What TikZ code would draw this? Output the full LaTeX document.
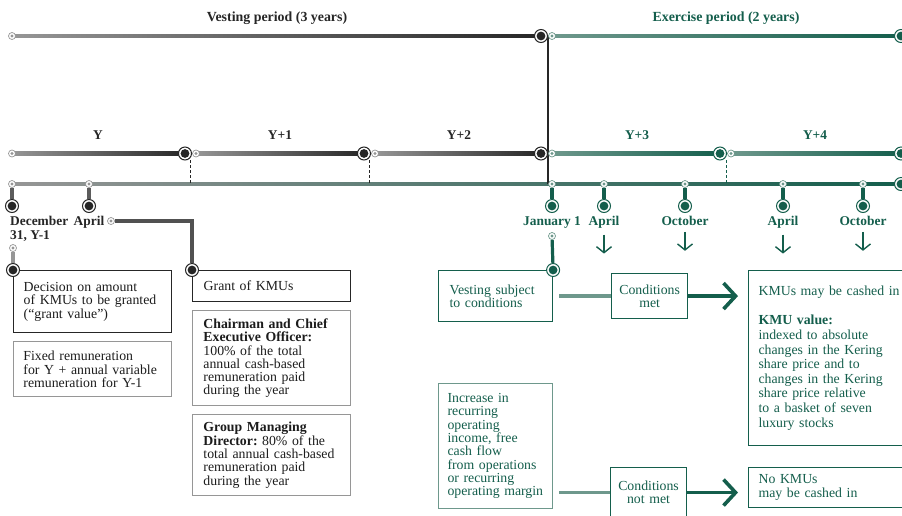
\documentclass[tikz,border=0pt]{standalone}
\usepackage{fontspec}
\setmainfont{Liberation Serif}
\usepackage{xcolor}
\definecolor{kdark}{RGB}{38,38,38}
\definecolor{ktext}{RGB}{28,28,28}
\definecolor{kgray}{RGB}{150,150,150}
\definecolor{kgreen}{RGB}{20,94,76}
\definecolor{klight}{RGB}{110,152,140}
\usepackage{tikz}
\usetikzlibrary{arrows.meta, positioning, calc, backgrounds}
\frenchspacing

\begin{document}
\begin{tikzpicture}[x=1pt, y=-1pt,
	sdot/.style={circle, draw=#1, fill=white, line width=0.7pt, minimum size=7pt, inner sep=0pt,
	             path picture={\fill[#1] (path picture bounding box.center) circle (1.7pt);}},
	bdot/.style={circle, draw=#1, fill=white, line width=1pt, minimum size=13pt, inner sep=0pt,
	             path picture={\fill[#1] (path picture bounding box.center) circle (4.4pt);}},
	lbl/.style={font=\fontsize{13.4}{14}\selectfont\bfseries, inner sep=0pt},
	ttl/.style={font=\fontsize{13.9}{14}\selectfont\bfseries, inner sep=0pt},
	kbox/.style={rectangle, anchor=north west, align=left, inner xsep=10pt, inner ysep=4pt,
	             font=\fontsize{13.8}{13.3}\selectfont},
	dbox/.style={kbox, draw=kdark, line width=1.4pt, text=ktext},
	gbox/.style={kbox, draw=kgray, line width=0.9pt, text=ktext},
	grbox/.style={kbox, draw=kgreen, line width=1.1pt, text=kgreen},
	stem/.style={draw=#1, line width=3.2pt},
	yearsep/.style={draw=#1, line width=0.8pt, densely dashed},
	darr/.style={draw=kgreen, line width=1.4pt, -{Straight Barb[length=6pt, width=15pt]}},
	feed/.style={draw=klight, line width=3.6pt},
	bigarr/.style={draw=kgreen, line width=3.6pt, -{Straight Barb[length=12pt, width=26pt]}}
	]
\useasboundingbox (0,0) rectangle (902,515);

% titles
\node[ttl, text=kdark, anchor=base] (tvest) at (277,21.5) {Vesting period (3 years)};
\node[ttl, text=kgreen, anchor=base] (texer) at (726,21.5) {Exercise period (2 years)};

% periods
\node[sdot=kgray] (a0) at (12,36) {};
\node[bdot=kdark] (a1) at (541,36) {};
\node[sdot=klight] (a2) at (552,36) {};
\node[bdot=kgreen] (a3) at (901,36) {};

% years
\foreach \x/\t/\c in {98/Y/kdark, 280/Y+1/kdark, 459/Y+2/kdark, 637/Y+3/kgreen, 815/Y+4/kgreen}
  \node[lbl, text=\c, anchor=base] (yr\x) at (\x,139.5) {\t};
\node[sdot=kgray] (b0) at (12,153.5) {};
\node[bdot=kdark] (b1) at (185,153.5) {};
\node[sdot=kgray] (b2) at (196,153.5) {};
\node[bdot=kdark] (b3) at (364,153.5) {};
\node[sdot=kgray] (b4) at (375,153.5) {};
\node[bdot=kdark] (b5) at (541,153.5) {};
\node[sdot=klight] (b6) at (552,153.5) {};
\node[bdot=kgreen] (b7) at (720,153.5) {};
\node[sdot=klight] (b8) at (731,153.5) {};
\node[bdot=kgreen] (b9) at (901,153.5) {};
\coordinate (k1) at (190.5,160);
\coordinate (k2) at (369.5,160);
\coordinate (k3) at (726,160);

% dates
\node[sdot=kgray] (c0) at (12,184) {};
\node[sdot=kgray] (c1) at (89,184) {};
\node[bdot=kgreen] (cend) at (901,184) {};
\node[bdot=kdark] (e0) at (12,206) {};
\node[bdot=kdark] (e1) at (89,206) {};
\node[lbl, text=kdark, align=left, anchor=north west] (dec) at (10,216) {December\\31, Y-1};
\node[lbl, text=kdark, anchor=base] (apr) at (89,225.5) {April};
\node[sdot=kgray] (ap) at (111,221) {};
\node[sdot=kgray] (dy) at (13,248) {};

\node[sdot=klight] (cj) at (552,184) {};
\node[bdot=kgreen] (ej) at (552,206) {};
\node[lbl, text=kgreen, anchor=base] (jan) at (552,225.5) {January 1};
\node[sdot=klight] (vj) at (552,236) {};

\foreach \x/\n/\t in {604/2/April, 685/3/October, 783/4/April, 863/5/October}{
  \node[sdot=klight] (c\n) at (\x,184) {};
  \node[bdot=kgreen] (e\n) at (\x,206) {};
  \node[lbl, text=kgreen, anchor=base] (m\n) at (\x,225.5) {\t};
  \draw[stem=kgreen] (c\n) -- (e\n);
  \draw[darr] ([yshift=-6pt]m\n.south) -- ++(0,19);
}

% vesting side
\node[dbox, text width=138pt, minimum height=62pt] (decide) at (13,270)
  {Decision on amount\\of KMUs to be granted\\(“grant value”)};
\node[gbox, text width=138pt, minimum height=55pt, below=8pt of decide.south west, anchor=north west] (fixed)
  {Fixed remuneration\\for Y + annual variable\\remuneration for Y-1};
\node[dbox, text width=136pt, inner xsep=11pt, minimum height=31pt] (grant) at (192,270) {Grant of KMUs};
\node[gbox, text width=136pt, inner xsep=11pt, minimum height=95pt, below=8pt of grant.south west, anchor=north west] (ceo)
  {\textbf{Chairman and Chief}\\\textbf{Executive Officer:}\\100\% of the total\\annual cash-based\\remuneration paid\\during the year};
\node[gbox, text width=136pt, inner xsep=11pt, minimum height=81pt, below=8pt of ceo.south west, anchor=north west] (gmd)
  {\textbf{Group Managing}\\\textbf{Director:} 80\% of the\\total annual cash-based\\remuneration paid\\during the year};
\node[bdot=kdark] (dd) at (decide.north west) {};
\node[bdot=kdark] (gg) at (grant.north west) {};

% exercise side
\node[grbox, text width=92pt, inner xsep=11pt, minimum height=51pt] (vest) at (438,270) {Vesting subject\\to conditions};
\node[bdot=kgreen] (vv) at (vest.north east) {};
\node[grbox, align=center, text width=62pt, inner xsep=7pt, minimum height=45pt, right=58pt of vest] (met) {Conditions\\met};
\node[grbox, text width=150pt, minimum height=175pt, font=\fontsize{13.8}{14.6}\selectfont] (cash) at (748,270)
  {KMUs may be cashed in\\[14.6pt]\textbf{KMU value:}\\indexed to absolute\\changes in the Kering\\share price and to\\changes in the Kering\\share price relative\\to a basket of seven\\luxury stocks};
\node[grbox, draw=klight, text width=96pt, inner xsep=9pt, minimum height=125pt] (incr) at (438,383)
  {Increase in\\recurring\\operating\\income, free\\cash flow\\from operations\\or recurring\\operating margin};
\node[grbox, align=center, text width=62pt, inner xsep=7pt, minimum height=50pt] (nmet) at (610,467) {Conditions\\not met};
\node[grbox, text width=150pt, minimum height=40pt] (nocash) at (748,467) {No KMUs\\may be cashed in};

\draw[feed, shorten <=6pt] (vest) -- (met);
\draw[bigarr, shorten >=10pt] (met) -- (met -| cash.west);
\draw[feed, shorten <=6pt] (incr.east |- nmet.west) -- (nmet.west);
\draw[bigarr, shorten >=10pt] (nmet.east) -- (nmet.east -| nocash.west);

\begin{scope}[on background layer]
\foreach \sa/\sb/\ca/\cb in {a0/a1/kgray/kdark, a2/a3/klight/kgreen, b0/b1/kgray/kdark, b2/b3/kgray/kdark,
    b4/b5/kgray/kdark, b6/b7/klight/kgreen, b8/b9/klight/kgreen, c0/cend/kgray/kgreen}
  \path[left color=\ca, right color=\cb] ($(\sa.center)+(0,-1.7)$) rectangle ($(\sb.center)+(0,1.7)$);
\coordinate (vtop) at (548,36);
\coordinate (vbot) at (548,184);
\draw[kdark, line width=2pt] (vtop) -- (vbot);
\draw[yearsep=kdark] (k1) -- (k1 |- c0);
\draw[yearsep=kdark] (k2) -- (k2 |- c0);
\draw[yearsep=kgreen] (k3) -- (k3 |- c0);
\draw[stem=kdark!75] (c0) -- (e0);
\draw[stem=kdark!75] (c1) -- (e1);
\draw[stem=kgray] (dy) -- (dd);
\draw[stem=kdark!80] (ap) -| (gg);
\draw[stem=kgreen] (cj) -- (ej);
\draw[stem=kgreen] (vj) -- (vv);
\end{scope}
\end{tikzpicture}
\end{document}
